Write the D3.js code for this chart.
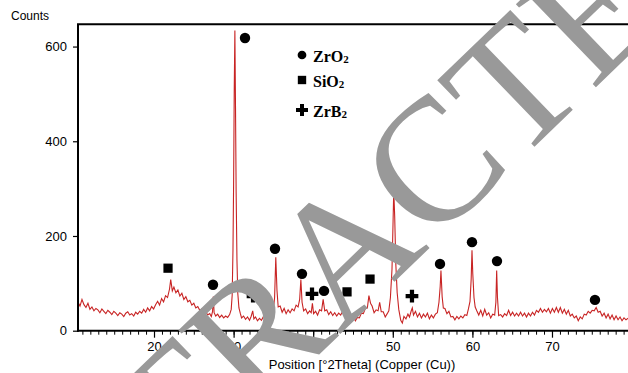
<!DOCTYPE html>
<html><head><meta charset="utf-8">
<script src="https://cdn.jsdelivr.net/npm/d3@7"></script>
<style>html,body{margin:0;padding:0;background:#fff;}svg{display:block;}</style>
</head><body>
<script>
// XRD scan: [2theta, counts]
const scan = [
[10.45,60],[10.7,52],[10.95,66],[11.2,55],[11.45,49],[11.7,58],[11.95,45],
[12.2,50],[12.45,42],[12.7,47],[12.95,44],[13.2,38],[13.45,46],[13.7,41],[13.95,36],
[14.2,43],[14.45,39],[14.7,34],[14.95,41],[15.2,37],[15.45,32],[15.7,38],[15.95,35],
[16.2,30],[16.45,37],[16.7,40],[16.95,33],[17.2,36],[17.45,31],[17.7,39],[17.95,35],
[18.2,41],[18.45,37],[18.7,45],[18.95,39],[19.2,48],[19.45,42],[19.7,51],[19.95,46],
[20.2,55],[20.45,62],[20.7,54],[20.95,68],[21.2,61],[21.45,74],[21.7,70],[21.95,88],
[22.1,108],[22.3,84],[22.5,92],[22.75,80],[23.0,86],[23.25,73],[23.5,79],[23.75,66],
[24.0,72],[24.25,61],[24.5,64],[24.75,54],[25.0,58],[25.25,48],[25.5,51],[25.75,43],
[26.0,46],[26.25,37],[26.5,40],[26.75,33],[27.0,36],[27.2,30],[27.35,40],[27.45,72],[27.55,38],[27.75,31],
[28.0,35],[28.25,28],[28.5,33],[28.75,27],[29.0,31],[29.25,28],[29.5,34],[29.7,45],
[29.82,75],[29.92,170],[30.0,310],[30.08,510],[30.16,634],[30.24,470],[30.32,290],[30.42,150],[30.52,80],[30.67,48],[30.85,36],
[31,27],[31.25,31],[31.5,24],[31.75,29],[32,22],[32.2,30],[32.4,42],[32.55,25],[32.75,29],
[33,21],[33.25,26],[33.5,22],[33.75,30],[34,31],[34.25,44],[34.5,37],[34.75,48],[35,44],
[35.15,70],[35.3,155],[35.45,85],[35.6,50],[35.85,52],[36.1,39],[36.35,47],[36.6,36],
[36.85,44],[37.1,38],[37.35,46],[37.6,42],[37.85,54],[38.1,50],[38.3,66],[38.45,108],
[38.6,60],[38.8,42],[39.05,46],[39.3,36],[39.55,42],[39.75,38],[39.9,58],[40.05,36],
[40.3,41],[40.55,33],[40.8,44],[41.05,42],[41.25,66],[41.45,42],[41.7,44],[41.95,34],
[42.2,40],[42.45,32],[42.7,38],[42.95,31],[43.2,37],[43.45,33],[43.7,41],[43.9,40],
[44.1,58],[44.3,36],[44.55,34],[44.8,24],[45.05,30],[45.3,21],[45.55,28],[45.8,27],
[46.05,37],[46.3,36],[46.55,47],[46.8,48],[47.0,74],[47.2,58],[47.4,52],[47.65,38],
[47.9,44],[48.15,42],[48.35,60],[48.55,40],[48.8,40],[49.05,29],[49.3,36],[49.5,42],
[49.7,70],[49.9,130],[50.02,220],[50.12,297],[50.24,240],[50.38,140],[50.55,80],[50.75,45],
[51.0,22],[51.2,16],[51.4,30],[51.65,25],[51.9,35],[52.1,29],[52.3,41],[52.45,48],
[52.6,33],[52.85,41],[53.1,29],[53.35,37],[53.6,27],[53.85,35],[54.1,29],[54.35,37],
[54.6,25],[54.85,33],[55.1,27],[55.35,35],[55.6,38],[55.8,60],[55.95,92],[56.05,127],
[56.2,72],[56.35,48],[56.55,47],[56.8,36],[57.05,41],[57.3,29],[57.55,30],[57.8,23],
[58.05,30],[58.3,25],[58.55,31],[58.8,27],[59.05,34],[59.3,32],[59.5,46],[59.7,62],
[59.85,110],[59.95,170],[60.05,120],[60.2,70],[60.35,50],[60.55,42],[60.8,33],[61.05,43],
[61.3,31],[61.55,45],[61.8,33],[62.05,38],[62.3,27],[62.55,35],[62.8,33],[62.95,60],
[63.05,127],[63.15,70],[63.3,32],[63.55,34],[63.8,29],[64.05,36],[64.3,32],[64.55,43],
[64.8,32],[65.05,39],[65.3,31],[65.55,37],[65.8,31],[66.05,39],[66.3,31],[66.55,37],
[66.8,29],[67.05,37],[67.3,31],[67.55,39],[67.8,33],[68.05,43],[68.3,39],[68.55,47],
[68.8,39],[69.05,45],[69.3,40],[69.55,47],[69.8,37],[70.05,47],[70.3,39],[70.55,49],
[70.8,39],[71.05,49],[71.3,37],[71.55,45],[71.8,35],[72.05,43],[72.3,31],[72.55,35],
[72.8,27],[73.05,31],[73.3,21],[73.55,29],[73.8,25],[74.05,35],[74.3,33],[74.55,41],
[74.8,37],[75.05,43],[75.3,42],[75.55,49],[75.8,39],[76.05,41],[76.3,31],[76.55,37],
[76.8,27],[77.05,35],[77.3,25],[77.55,33],[77.8,23],[78.05,31],[78.3,23],[78.55,29],
[78.8,21],[79.05,27],[79.3,23],[79.55,26],[79.8,24]
];
// phase markers: [2theta, counts position, phase]
const peakMarks = [
[31.43,618,"ZrO2"],[21.76,132,"SiO2"],[27.41,97,"ZrO2"],[32.44,73,"ZrB2"],
[35.2,173,"ZrO2"],[38.59,120,"ZrO2"],[39.85,78,"ZrB2"],[41.36,84,"ZrO2"],
[44.25,82,"SiO2"],[47.14,109,"SiO2"],[52.41,73,"ZrB2"],[55.93,141,"ZrO2"],
[59.95,187,"ZrO2"],[63.09,147,"ZrO2"],[75.4,65,"ZrO2"]
];
const phases = ["ZrO2","SiO2","ZrB2"];
const legendLabels = [["Zr","O","2"],["Si","O","2"],["Zr","B","2"]];
const xMajorTicks = [20,30,40,50,60,70];
const yTicks = [0,200,400,600];
const xTitle = "Position [°2Theta] (Copper (Cu))";
const yTitle = "Counts";
const watermark = "RETRACTED";

const W = 628, H = 373;
const L = 78, R = 628, T = 24.3, B = 330.7;
const x = d3.scaleLinear().domain([10.45, 79.55]).range([L, R]);
const y = d3.scaleLinear().domain([0, 647]).range([B, T]);

const svg = d3.select("body").append("svg").attr("width", W).attr("height", H);
svg.append("rect").attr("width", W).attr("height", H).attr("fill", "#fff");

svg.append("defs").append("clipPath").attr("id","clip")
  .append("rect").attr("x", L).attr("y", T).attr("width", R - L).attr("height", B - T);

// trace
svg.append("path").datum(scan)
  .attr("clip-path","url(#clip)")
  .attr("fill","none").attr("stroke","#c82424").attr("stroke-width",1.1)
  .attr("d", d3.line().x(d=>x(d[0])).y(d=>y(d[1])).curve(d3.curveLinear));

// axes
const font = "'Liberation Sans', Arial, sans-serif";
const xMinor = d3.range(11, 80);
const gxm = svg.append("g").attr("transform",`translate(0,${B})`)
  .call(d3.axisBottom(x).tickValues(xMinor).tickSize(4).tickFormat(""));
gxm.select(".domain").remove();
gxm.selectAll("line").attr("stroke","#000").attr("stroke-width",1);
const gx = svg.append("g").attr("transform",`translate(0,${B})`)
  .call(d3.axisBottom(x).tickValues(xMajorTicks).tickSize(7).tickPadding(4).tickFormat(d3.format("d")));
gx.select(".domain").remove();
gx.selectAll("line").attr("stroke","#000").attr("stroke-width",1.2);
gx.selectAll("text").attr("font-family",font).attr("font-size",13).attr("fill","#000");

const gy = svg.append("g").attr("transform",`translate(${L},0)`)
  .call(d3.axisLeft(y).tickValues(yTicks).tickSize(5).tickPadding(6));
gy.select(".domain").remove();
gy.selectAll("line").attr("stroke","#000").attr("stroke-width",1.2);
gy.selectAll("text").attr("font-family",font).attr("font-size",13).attr("fill","#000");

// frame lines
svg.append("line").attr("x1",L).attr("x2",L).attr("y1",T).attr("y2",B+1).attr("stroke","#000").attr("stroke-width",2);
svg.append("line").attr("x1",L-1).attr("x2",R).attr("y1",B).attr("y2",B).attr("stroke","#000").attr("stroke-width",2);
svg.append("line").attr("x1",L-1).attr("x2",R).attr("y1",T).attr("y2",T).attr("stroke","#000").attr("stroke-width",2);

svg.append("text").attr("x",11).attr("y",20).attr("font-family",font).attr("font-size",12).text(yTitle);
svg.append("text").attr("x",362).attr("y",369).attr("text-anchor","middle")
  .attr("font-family",font).attr("font-size",13).text(xTitle);

// markers
const symFor = {ZrO2: d3.symbolCircle, SiO2: d3.symbolSquare, ZrB2: d3.symbolCross};
const sizeFor = {ZrO2: 85, SiO2: 85, ZrB2: 90};
svg.append("g").selectAll("path").data(peakMarks).join("path")
  .attr("transform", d=>`translate(${x(d[0])},${y(d[1])})`)
  .attr("d", d=>d3.symbol().type(symFor[d[2]]).size(sizeFor[d[2]])())
  .attr("fill","#000");

// legend
const legY = [55, 80, 110];
const lg = svg.append("g");
phases.forEach((p,i)=>{
  lg.append("path").attr("transform",`translate(302,${legY[i]})`)
    .attr("d", d3.symbol().type(symFor[p]).size(p==="ZrO2"?60:(p==="SiO2"?70:80))()).attr("fill","#000");
  const t = lg.append("text").attr("x",313).attr("y",legY[i]+6.5)
    .attr("font-family","'Liberation Serif','Times New Roman',serif").attr("font-weight","bold").attr("font-size",16);
  t.append("tspan").text(legendLabels[i][0]+legendLabels[i][1]);
  t.append("tspan").attr("font-size",11).attr("dy",1).text(legendLabels[i][2]);
});

// watermark
svg.append("text").attr("transform","translate(347,245) rotate(-44)")
  .attr("text-anchor","middle").attr("dominant-baseline","central")
  .attr("font-family","'Liberation Serif','Times New Roman',serif").attr("font-size",176)
  .attr("fill","#999999").text(watermark);
</script>
</body></html>
